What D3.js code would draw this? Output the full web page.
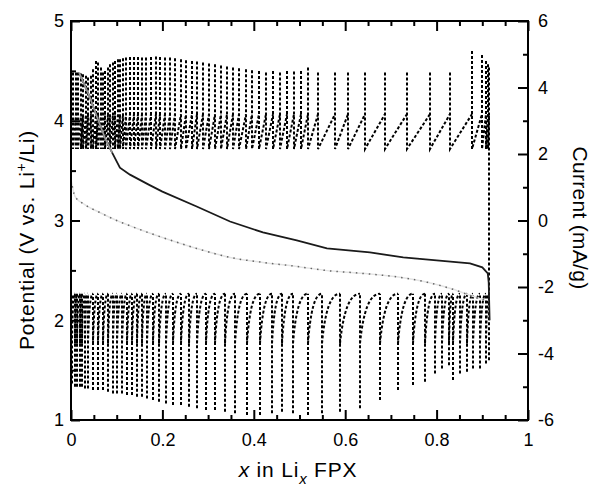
<!DOCTYPE html>
<html>
<head>
<meta charset="utf-8">
<script src="https://cdn.jsdelivr.net/npm/d3@7"></script>
<style>
  body { margin: 0; background: #fff; }
  text { font-family: "Liberation Sans", Arial, Helvetica, sans-serif; }
</style>
</head>
<body>
<div id="chart"></div>
<script>
// ---- data ----
// potential, solid line (V vs Li+/Li)
var solidX = [0.018, 0.04, 0.06, 0.075, 0.09, 0.107, 0.129, 0.17, 0.2, 0.275, 0.348, 0.42, 0.494, 0.56, 0.654, 0.727, 0.8, 0.873, 0.9, 0.912, 0.914, 0.916];
var solidV = [4.48, 4.25, 4.0, 3.82, 3.68, 3.53, 3.46, 3.36, 3.29, 3.14, 2.99, 2.88, 2.80, 2.72, 2.68, 2.63, 2.60, 2.57, 2.53, 2.47, 2.38, 2.0];
// potential, dotted grey line
var dotX = [0, 0.009, 0.03, 0.063, 0.1, 0.133, 0.2, 0.275, 0.348, 0.42, 0.494, 0.556, 0.637, 0.72, 0.78, 0.836, 0.873, 0.906];
var dotV = [3.41, 3.24, 3.16, 3.08, 3.0, 2.94, 2.83, 2.72, 2.63, 2.58, 2.54, 2.50, 2.47, 2.43, 2.38, 2.31, 2.25, 2.2];

// current pulses, upper band (mA/g)
var upX = [0.004, 0.010, 0.015, 0.021, 0.026, 0.032, 0.037, 0.043, 0.048, 0.054, 0.059, 0.065, 0.070, 0.075, 0.081, 0.086, 0.092, 0.097, 0.103, 0.108,
           0.114, 0.121, 0.129, 0.138, 0.147, 0.155, 0.165, 0.175, 0.185, 0.195, 0.206, 0.217, 0.228, 0.240, 0.252, 0.264, 0.276, 0.289, 0.302, 0.315,
           0.328, 0.341, 0.354, 0.368, 0.382, 0.396, 0.411, 0.427, 0.442, 0.457, 0.473, 0.488, 0.503, 0.518, 0.540, 0.578, 0.606, 0.643, 0.687, 0.735,
           0.786, 0.829, 0.877, 0.899, 0.908, 0.912, 0.915];
var upPeak = [4.45, 4.45, 4.45, 4.42, 4.40, 4.35, 4.30, 4.35, 4.55, 4.80, 4.75, 4.60, 4.45, 4.50, 4.60, 4.70, 4.75, 4.80, 4.85, 4.85,
              4.88, 4.90, 4.92, 4.92, 4.92, 4.90, 4.90, 4.92, 4.93, 4.92, 4.90, 4.90, 4.88, 4.85, 4.82, 4.80, 4.78, 4.75, 4.72, 4.70,
              4.66, 4.63, 4.60, 4.58, 4.55, 4.52, 4.50, 4.45, 4.50, 4.45, 4.50, 4.48, 4.50, 4.60, 4.45, 4.45, 4.45, 4.45, 4.45, 4.45,
              4.45, 4.45, 5.10, 4.98, 4.80, 4.70, 4.60];
var upLow = 2.15, upKnee = 3.2;

// current pulses, lower band (mA/g)
var lowX = [0.002, 0.008, 0.013, 0.019, 0.024, 0.030, 0.037, 0.048, 0.059, 0.070, 0.081, 0.091, 0.101, 0.112, 0.123, 0.133, 0.144, 0.155, 0.166, 0.179,
            0.193, 0.208, 0.223, 0.241, 0.258, 0.276, 0.295, 0.315, 0.337, 0.359, 0.385, 0.414, 0.440, 0.462, 0.486, 0.519, 0.549, 0.589, 0.632, 0.676,
            0.716, 0.748, 0.775, 0.796, 0.812, 0.827, 0.836, 0.851, 0.867, 0.880, 0.895, 0.908, 0.915];
var lowPeak = [-4.9, -5.0, -5.0, -5.0, -5.0, -5.05, -5.05, -5.1, -5.1, -5.1, -5.15, -5.2, -5.2, -5.2, -5.25, -5.25, -5.3, -5.3, -5.35, -5.4,
               -5.45, -5.5, -5.55, -5.55, -5.6, -5.65, -5.7, -5.7, -5.75, -5.8, -5.85, -5.85, -5.8, -5.75, -5.8, -5.85, -5.8, -5.75, -5.65, -5.4,
               -5.1, -4.95, -4.85, -4.6, -4.45, -4.35, -4.8, -4.6, -4.55, -4.45, -4.45, -4.3, -4.2];
var lowTop = -2.2, lowKnee = -3.7;

// ticks
var xMajor = [0, 0.2, 0.4, 0.6, 0.8, 1];
var xMinor = [0.05, 0.1, 0.15, 0.25, 0.3, 0.35, 0.45, 0.5, 0.55, 0.65, 0.7, 0.75, 0.85, 0.9, 0.95];
var vMajor = [1, 2, 3, 4, 5];
var vMinor = [1.5, 2.5, 3.5, 4.5];
var iMajor = [-6, -4, -2, 0, 2, 4, 6];
var iMinor = [-5, -3, -1, 1, 3, 5];

// ---- layout ----
var margin = {top: 21, right: 63, bottom: 69, left: 71},
    width = 591 - margin.left - margin.right,
    height = 489 - margin.top - margin.bottom;

var svg = d3.select("#chart")
  .append("svg")
    .attr("width", 591)
    .attr("height", 489)
  .append("g")
    .attr("transform", "translate(" + margin.left + "," + margin.top + ")");

var x = d3.scaleLinear().domain([0, 1]).range([0, width]);
var yV = d3.scaleLinear().domain([1, 5]).range([height, 0]);
var yI = d3.scaleLinear().domain([-6, 6]).range([height, 0]);
// pixel-snapped x for the vertical pulse lines so they stay dark
var xs = function(d) { return Math.round(x(d)); };

svg.append("clipPath").attr("id", "clip")
  .append("rect").attr("width", width).attr("height", height);

var plot = svg.append("g").attr("clip-path", "url(#clip)");

// upper current band: each pulse = vertical spike (drawn from its peak down,
// so the dashes of neighbouring spikes are staggered) + a rise to the next one
var upPath = d3.path();
upX.forEach(function(d, i) {
  upPath.moveTo(xs(d), yI(upPeak[i]));
  upPath.lineTo(xs(d), yI(upLow));
  if (i < upX.length - 1) {
    upPath.lineTo(xs(upX[i + 1]), yI(upKnee));
  }
});
// final switch down to the lower band
var last = upX[upX.length - 1];
upPath.lineTo(xs(last), yI(lowTop));

plot.append("path")
  .attr("d", upPath.toString())
  .attr("fill", "none")
  .attr("stroke", "#000")
  .attr("stroke-width", 2)
  .attr("stroke-dasharray", "3,2");

// lower current band: spike down (drawn from its bottom up), then recover along an arc
var lowPath = d3.path();
lowX.forEach(function(d, i) {
  lowPath.moveTo(xs(d), yI(lowPeak[i]));
  lowPath.lineTo(xs(d), yI(lowTop));
  if (i < lowX.length - 1) {
    var nx = lowX[i + 1];
    lowPath.moveTo(xs(d), yI(lowKnee));
    lowPath.quadraticCurveTo(x(d + (nx - d) * 0.25), yI(lowTop), xs(nx), yI(lowTop));
  }
});

plot.append("path")
  .attr("d", lowPath.toString())
  .attr("fill", "none")
  .attr("stroke", "#000")
  .attr("stroke-width", 2)
  .attr("stroke-dasharray", "3,2");

// potential curves
var line = d3.line()
  .x(function(d) { return x(d[0]); })
  .y(function(d) { return yV(d[1]); });

var dotData = d3.zip(dotX, dotV);
plot.append("path")
  .datum(dotData)
  .attr("d", line.curve(d3.curveMonotoneX))
  .attr("fill", "none")
  .attr("stroke", "#e4e4e4")
  .attr("stroke-width", 1.5);
plot.append("path")
  .datum(dotData)
  .attr("d", line.curve(d3.curveMonotoneX))
  .attr("fill", "none")
  .attr("stroke", "#666")
  .attr("stroke-width", 1.5)
  .attr("stroke-dasharray", "1.5,5");

var solidData = d3.zip(solidX, solidV);
plot.append("path")
  .datum(solidData)
  .attr("d", line.curve(d3.curveLinear))
  .attr("fill", "none")
  .attr("stroke", "#1a1a1a")
  .attr("stroke-width", 1.8);
// steep start looks grey in the original
plot.append("path")
  .datum(solidData.filter(function(d) { return d[0] <= 0.09; }))
  .attr("d", line)
  .attr("fill", "none")
  .attr("stroke", "#9a9a9a")
  .attr("stroke-width", 1.6);

// ---- axes ----
var fmt = function(d) { return String(d); };

svg.append("g")
  .attr("transform", "translate(0," + height + ")")
  .call(d3.axisBottom(x).tickValues(xMajor).tickSize(-10).tickPadding(13).tickFormat(fmt));
svg.append("g")
  .attr("transform", "translate(0," + height + ")")
  .call(d3.axisBottom(x).tickValues(xMinor).tickSize(-5).tickFormat(""));
svg.append("g")
  .call(d3.axisTop(x).tickValues(xMajor).tickSize(-10).tickFormat(""));
svg.append("g")
  .call(d3.axisTop(x).tickValues(xMinor).tickSize(-5).tickFormat(""));

svg.append("g")
  .call(d3.axisLeft(yV).tickValues(vMajor).tickSize(-9).tickPadding(7).tickFormat(fmt));
svg.append("g")
  .call(d3.axisLeft(yV).tickValues(vMinor).tickSize(-5).tickFormat(""));

svg.append("g")
  .attr("transform", "translate(" + width + ",0)")
  .call(d3.axisRight(yI).tickValues(iMajor).tickSize(-10).tickPadding(10).tickFormat(fmt));
svg.append("g")
  .attr("transform", "translate(" + width + ",0)")
  .call(d3.axisRight(yI).tickValues(iMinor).tickSize(-5).tickFormat(""));

svg.selectAll(".domain").remove();
svg.selectAll(".tick line").attr("stroke", "#000").attr("stroke-width", 2);
svg.selectAll(".tick text").attr("font-size", 18).attr("fill", "#000")
  .style("font-family", "'Liberation Sans', Arial, sans-serif");

svg.append("rect")
  .attr("width", width)
  .attr("height", height)
  .attr("fill", "none")
  .attr("stroke", "#000")
  .attr("stroke-width", 2);

// ---- axis titles ----
var yTitle = svg.append("text")
  .attr("transform", "translate(" + (34 - margin.left) + "," + (240 - margin.top) + ") rotate(-90)")
  .attr("text-anchor", "middle")
  .attr("font-size", 21)
  .attr("letter-spacing", 0.8);
yTitle.append("tspan").text("Potential (V vs. Li");
yTitle.append("tspan").attr("dy", -8).attr("font-size", 14).text("+");
yTitle.append("tspan").attr("dy", 8).text("/Li)");

svg.append("text")
  .attr("transform", "translate(" + (573 - margin.left) + "," + (218 - margin.top) + ") rotate(90)")
  .attr("text-anchor", "middle")
  .attr("font-size", 21)
  .attr("letter-spacing", 0.3)
  .text("Current (mA/g)");

var xTitle = svg.append("text")
  .attr("x", 298 - margin.left)
  .attr("y", 477 - margin.top)
  .attr("text-anchor", "middle")
  .attr("font-size", 21)
  .attr("letter-spacing", 0.8);
xTitle.append("tspan").attr("font-style", "italic").text("x");
xTitle.append("tspan").text(" in Li");
xTitle.append("tspan").attr("font-style", "italic").attr("font-size", 15).attr("dy", 7).text("x");
xTitle.append("tspan").attr("dy", -7).text(" FPX");
</script>
</body>
</html>
